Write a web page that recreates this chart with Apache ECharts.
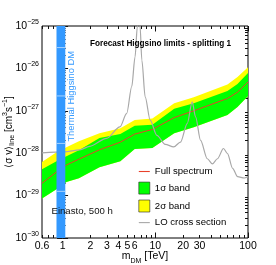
<!DOCTYPE html>
<html><head><meta charset="utf-8">
<script src="https://cdn.jsdelivr.net/npm/echarts@6/dist/echarts.min.js"></script>
<style>html,body{margin:0;padding:0;background:#fff}#c{width:276px;height:265px}</style>
</head><body><div id="c"></div>
<script>
// ---- data ----
const masses      = [0.6, 0.86, 1.1, 1.5, 2.5, 4.2, 6, 9.3, 16, 26, 60, 77, 100];
const median      = [1.95e-29, 3.63e-29, 5.25e-29, 7.24e-29, 1.20e-28, 1.82e-28, 2.82e-28, 3.63e-28, 6.92e-28, 1.00e-27, 1.95e-27, 2.75e-27, 4.79e-27];
const sigma1Upper = [4.17e-29, 6.46e-29, 8.51e-29, 1.17e-28, 2.29e-28, 2.82e-28, 4.47e-28, 4.68e-28, 1.12e-27, 1.51e-27, 2.95e-27, 4.27e-27, 7.76e-27];
const sigma1Lower = [8.51e-30, 1.41e-29, 2.09e-29, 2.57e-29, 4.68e-29, 6.46e-29, 1.26e-28, 1.32e-28, 2.95e-28, 4.07e-28, 7.94e-28, 1.23e-27, 2.24e-27];
const sigma2Upper = [6.17e-29, 1.05e-28, 1.38e-28, 1.91e-28, 2.95e-28, 3.89e-28, 6.03e-28, 6.61e-28, 1.51e-27, 2.09e-27, 4.17e-27, 6.31e-27, 1.07e-26];
const sigma2Lower = sigma1Lower; // 2σ lower edge hidden under the 1σ band

const loMass = [0.6, 1.05, 1.53, 1.96, 2.98, 4.16, 4.92, 5.57, 6.05, 6.41, 6.62, 6.85, 7.16, 7.78, 8.81, 10.4, 12.8, 15.8, 18.7, 22.1, 25.0, 27.2, 30.8, 36.4, 41.3, 46.8, 54.4, 60.1, 68.2, 77.3, 91.2, 100];
const loXsec = [1.02e-28, 1.07e-28, 1.20e-28, 1.45e-28, 2.24e-28, 4.17e-28, 8.7e-28, 3.7e-27, 1.86e-26, 1.0e-25, 2.5e-25, 1.0e-25, 1.58e-26, 2.14e-27, 6.0e-28, 2.63e-28, 1.62e-28, 1.41e-28, 1.82e-28, 5.0e-28, 1.62e-27, 7.2e-28, 2.0e-28, 7.4e-29, 5.6e-29, 7.4e-29, 1.29e-28, 9.8e-29, 4.4e-29, 2.8e-29, 2.6e-29, 2.8e-29];

const thermalRange = [0.86, 1.07];
const thermalMarks = [3.1e-26, 2.24e-27, 1.7e-28, 1.26e-29];
const thermalLabelAt = [1.2, 2.2e-27];

const xRange = [0.6, 100];
const yRange = [1e-30, 1e-25];
const xTickLabels = [0.6, 1, 2, 3, 4, 5, 6, 10, 20, 30, 100];
const xMajorTicks = [1, 10, 100];
const xMinorTicks = [0.6, 0.7, 0.8, 0.9, 2, 3, 4, 5, 6, 7, 8, 9, 20, 30, 40, 50, 60, 70, 80, 90];
const yDecades = [-30, -29, -28, -27, -26, -25];
const yMinorMultipliers = [2, 3, 4, 5, 6, 7, 8, 9];

// ---- build ----
const F = "'Liberation Sans', Arial, Helvetica, sans-serif";
const lg = Math.log10;
const yMinorTicks = [];
yDecades.slice(0, -1).forEach(d => yMinorMultipliers.forEach(k => yMinorTicks.push(d + lg(k))));

function pairs(xs, ys) { return xs.map((x, i) => [x, ys[i]]); }

function band(name, upper, lower, color) {
  return {
    type: 'custom', name, xAxisIndex: 0, yAxisIndex: 0, silent: true,
    data: [[masses[0], upper[0]]], encode: { x: 0, y: 1 },
    itemStyle: { color },
    renderItem: (params, api) => {
      const pts = [];
      for (let i = 0; i < masses.length; i++) pts.push(api.coord([masses[i], upper[i]]));
      for (let i = masses.length - 1; i >= 0; i--) pts.push(api.coord([masses[i], lower[i]]));
      return { type: 'polygon', shape: { points: pts }, style: { fill: color } };
    }
  };
}

const auxX = (position, ticks, len, withLabels) => ({
  type: 'value', position, min: lg(xRange[0]), max: lg(xRange[1]), gridIndex: 0,
  axisLine: { show: false }, splitLine: { show: false },
  axisTick: { show: true, inside: true, length: len, customValues: ticks.map(lg), lineStyle: { color: '#111', width: 1 } },
  axisLabel: withLabels ? {
    show: true, customValues: xTickLabels.map(lg), margin: 3, fontSize: 10.5, fontFamily: F, color: '#000',
    formatter: v => String(+Math.pow(10, v).toPrecision(3))
  } : { show: false },
  name: withLabels ? '{i|m}{s|DM}{n| [TeV]}' : '',
  nameLocation: 'middle', nameGap: 13, nameMoveOverlap: false,
  nameTextStyle: { rich: {
    i: { fontSize: 10.5, fontFamily: F, color: '#000', lineHeight: 12, verticalAlign: 'top' },
    s: { fontSize: 7, fontFamily: F, color: '#000', lineHeight: 12, verticalAlign: 'bottom', padding: [0, 0, -2, 0] },
    n: { fontSize: 10.5, fontFamily: F, color: '#000', lineHeight: 12, verticalAlign: 'top' }
  } }
});

const auxY = (position, ticks, len, withLabels) => ({
  type: 'value', position, min: yDecades[0], max: yDecades[yDecades.length - 1], gridIndex: 0,
  axisLine: { show: false }, splitLine: { show: false },
  axisTick: { show: true, inside: true, length: len, customValues: ticks, lineStyle: { color: '#111', width: 1 } },
  axisLabel: withLabels ? {
    show: true, customValues: yDecades, margin: 3,
    formatter: v => '{b|10}{s|' + String(v).replace('-', '\u2212') + '}',
    rich: {
      b: { fontSize: 10.5, fontFamily: F, color: '#000', lineHeight: 11, verticalAlign: 'bottom' },
      s: { fontSize: 7, fontFamily: F, color: '#000', lineHeight: 8, verticalAlign: 'bottom', padding: [0, 0, 6, 0] }
    }
  } : { show: false },
  name: withLabels ? '{n|\u27e8\u03c3 v\u27e9}{s|line}{n| [cm}{p|3}{n|s}{p|\u22121}{n|]}' : '',
  nameLocation: 'middle', nameRotate: 90, nameGap: 26, nameMoveOverlap: false,
  nameTextStyle: { rich: {
    n: { fontSize: 10, fontFamily: F, color: '#000', lineHeight: 14, verticalAlign: 'middle' },
    s: { fontSize: 7, fontFamily: F, color: '#000', lineHeight: 14, verticalAlign: 'bottom' },
    p: { fontSize: 7, fontFamily: F, color: '#000', lineHeight: 14, verticalAlign: 'top' }
  } }
});

const lineIcon = 'path://M0,0 L11,0 L11,1.1 L0,1.1 Z';

const chart = echarts.init(document.getElementById('c'), null, { renderer: 'canvas' });
chart.setOption({
  animation: false,
  backgroundColor: '#fff',
  textStyle: { fontFamily: F },
  title: {
    text: 'Forecast Higgsino limits - splitting 1', left: 90, top: 40, padding: 0,
    textStyle: { fontSize: 8.2, fontWeight: 'bold', color: '#000', fontFamily: F }
  },
  grid: { left: 42, right: 28, top: 26, bottom: 27, outerBoundsMode: 'none', containLabel: false,
          show: true, borderColor: '#000', borderWidth: 1, backgroundColor: 'transparent' },
  xAxis: [
    { type: 'log', min: xRange[0], max: xRange[1], logBase: 10, show: false },
    auxX('bottom', xMinorTicks, 3, true),
    auxX('bottom', xMajorTicks, 5.5, false),
    auxX('top', xMinorTicks, 3, false),
    auxX('top', xMajorTicks, 5.5, false)
  ],
  yAxis: [
    { type: 'log', min: yRange[0], max: yRange[1], logBase: 10, show: false },
    auxY('left', yDecades, 5.5, true),
    auxY('left', yMinorTicks, 3, false),
    auxY('right', yDecades, 5.5, false),
    auxY('right', yMinorTicks, 3, false)
  ],
  legend: {
    orient: 'vertical', left: 138.5, top: 166.5, itemWidth: 11, itemHeight: 12, itemGap: 5.3,
    padding: 0, selectedMode: false, symbolKeepAspect: true,
    textStyle: { fontSize: 9.6, color: '#000', fontFamily: F },
    data: [
      { name: 'Full spectrum', icon: lineIcon, itemStyle: { color: '#e8402a', borderWidth: 0 } },
      { name: '1\u03c3 band', icon: 'rect', itemStyle: { color: '#00ff00', borderColor: '#222', borderWidth: 0.6 } },
      { name: '2\u03c3 band', icon: 'rect', itemStyle: { color: '#ffff00', borderColor: '#222', borderWidth: 0.6 } },
      { name: 'LO cross section', icon: lineIcon, itemStyle: { color: '#a8a8a8', borderWidth: 0 } }
    ]
  },
  graphic: [
    { type: 'text', left: 51.5, top: 206.5, silent: true, z: 100, zlevel: 0,
      style: { text: 'Einasto, 500 h', fontSize: 9.6, fontFamily: F, fill: '#111' } }
  ],
  series: [
    band('2\u03c3 band', sigma2Upper, sigma2Lower, '#ffff00'),
    band('1\u03c3 band', sigma1Upper, sigma1Lower, '#00ff00'),
    { type: 'line', name: 'Full spectrum', xAxisIndex: 0, yAxisIndex: 0, data: pairs(masses, median),
      symbol: 'none', showSymbol: false, silent: true, lineStyle: { color: '#e8402a', width: 1 }, itemStyle: { color: '#e8402a' } },
    { type: 'line', name: 'LO cross section', xAxisIndex: 0, yAxisIndex: 0, data: pairs(loMass, loXsec),
      symbol: 'none', showSymbol: false, silent: true, smooth: 0.3, smoothMonotone: 'x', clip: true,
      lineStyle: { color: '#a8a8a8', width: 1.2 }, itemStyle: { color: '#a8a8a8' } },
    { type: 'custom', name: 'thermal', xAxisIndex: 0, yAxisIndex: 0, silent: true, z: 5,
      data: [[thermalRange[0], 1e-28]], encode: { x: 0, y: 1 },
      renderItem: (params, api) => {
        const a = api.coord([thermalRange[0], yRange[1]]);
        const b = api.coord([thermalRange[1], yRange[0]]);
        const children = [{ type: 'rect', shape: { x: a[0], y: a[1], width: b[0] - a[0], height: b[1] - a[1] }, style: { fill: '#3399ff' } }];
        thermalMarks.forEach(v => {
          const c = api.coord([thermalRange[0], v]);
          children.push({ type: 'line', shape: { x1: a[0], y1: c[1], x2: b[0], y2: c[1] }, style: { stroke: '#a6d2ff', lineWidth: 1 } });
        });
        const t = api.coord(thermalLabelAt);
        children.push({ type: 'text', x: b[0] + 6, y: t[1], rotation: Math.PI / 2,
          style: { text: 'Thermal Higgsino DM', fontSize: 9.4, fontFamily: F, fill: '#3399ff', align: 'center', verticalAlign: 'middle' } });
        return { type: 'group', children };
      } }
  ]
});
</script></body></html>
